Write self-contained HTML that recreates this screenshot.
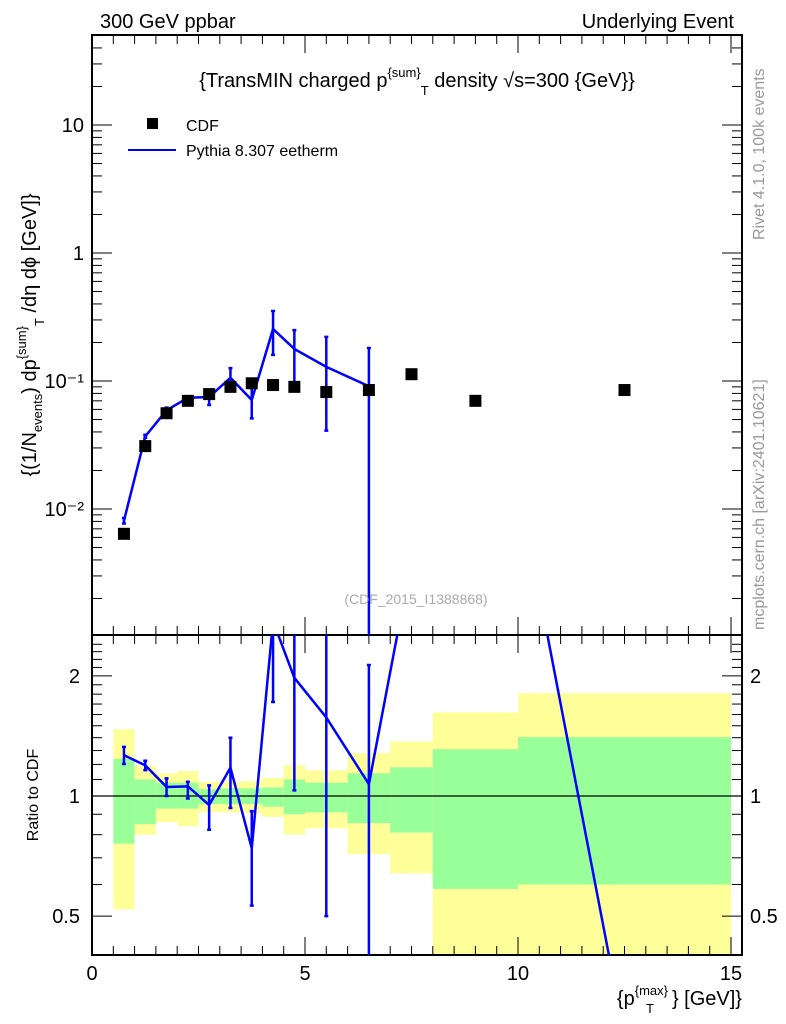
<!DOCTYPE html>
<html><head><meta charset="utf-8"><style>
body{margin:0;background:#fff;}
svg{display:block;font-family:"Liberation Sans",sans-serif;}
</style></head><body>
<svg id="c" width="786" height="1024" viewBox="0 0 786 1024">
<g id="bands"></g><g id="grid"></g><g id="marks"></g>
<text x="100" y="28" font-size="20">300 GeV ppbar</text>
<text x="734" y="28" font-size="20" text-anchor="end">Underlying Event</text>
<text x="417" y="87" font-size="20" text-anchor="middle">{TransMIN charged p<tspan dy="-10" font-size="13">{sum}</tspan><tspan dy="18" font-size="13">T</tspan><tspan dy="-8"> density √s=300 {GeV}}</tspan></text>
<rect x="147" y="118" width="11" height="11" fill="#000"/>
<text x="186" y="131" font-size="16">CDF</text>
<line x1="128" y1="150" x2="176" y2="150" stroke="#0000ff" stroke-width="2"/>
<text x="186" y="156" font-size="16">Pythia 8.307 eetherm</text>
<text x="416" y="604" font-size="14" fill="#aaa" text-anchor="middle">(CDF_2015_I1388868)</text>
<text transform="translate(764,240) rotate(-90)" font-size="16" fill="#999">Rivet 4.1.0,  100k events</text>
<text transform="translate(764,630) rotate(-90)" font-size="16" fill="#999">mcplots.cern.ch [arXiv:2401.10621]</text>
<text transform="translate(36,335) rotate(-90)" font-size="20" text-anchor="middle">{(1/N<tspan dy="6" font-size="13">events</tspan><tspan dy="-6">) dp</tspan><tspan dy="-10" font-size="13">{sum}</tspan><tspan dy="18" font-size="13">T</tspan><tspan dy="-8"> /dη  dϕ [GeV]}</tspan></text>
<text transform="translate(38,795) rotate(-90)" font-size="16" text-anchor="middle">Ratio to CDF</text>
<text x="742" y="1005" font-size="20" text-anchor="end">{p<tspan dy="-10" font-size="13">{max}</tspan><tspan dy="18" font-size="13" dx="-22">T</tspan><tspan dy="-8" dx="18">} [GeV]}</tspan></text>
</svg>
<script>
const xs=[0.75,1.25,1.75,2.25,2.75,3.25,3.75,4.25,4.75,5.5,6.5,7.5,9,12.5];
const cdf=[0.0064,0.031,0.056,0.070,0.079,0.090,0.096,0.093,0.090,0.082,0.085,0.113,0.070,0.085];
const pyX=[0.75,1.25,1.75,2.25,2.75,3.25,3.75,4.25,4.75,5.5,6.5];
const py=[0.0081,0.037,0.059,0.074,0.075,0.106,0.071,0.255,0.178,0.129,0.091];
const pyHi=[0.0085,0.038,0.062,0.076,0.084,0.126,0.088,0.352,0.250,0.221,0.181];
const pyLo=[0.0077,0.036,0.056,0.069,0.065,0.084,0.051,0.160,0.093,0.041,0.00001];
const tailX=[7.5,9,12.5];
const tailRatio=[3.9,22,0.25];
const binEdges=[0.5,1,1.5,2,2.5,3,3.5,4,4.5,5,6,7,8,10,15];
const yelHi=[1.47,1.19,1.14,1.155,1.085,1.085,1.09,1.11,1.195,1.16,1.28,1.37,1.62,1.81];
const yelLo=[0.52,0.80,0.86,0.84,0.91,0.91,0.905,0.886,0.80,0.83,0.715,0.64,0.3,0.3];
const grnHi=[1.24,1.10,1.08,1.08,1.04,1.045,1.045,1.05,1.10,1.08,1.14,1.18,1.31,1.405];
const grnLo=[0.76,0.85,0.93,0.93,0.955,0.955,0.955,0.94,0.90,0.91,0.855,0.81,0.585,0.60];
const xTicks=[0,5,10,15];
const mainTicks=[0.01,0.1,1,10];
const mainLabels=["10⁻²","10⁻¹","1","10"];
const ratioTicks=[0.5,1,2];

const NS="http://www.w3.org/2000/svg";
const L=92,R=742,T=35,MB=635,RB=955;
const X=v=>L+(v)*42.6;
const Y=v=>381-128*(Math.log10(v)+1);
const YR=v=>796-399*Math.log10(v);
function el(tag,at,parent){const e=document.createElementNS(NS,tag);for(const k in at)e.setAttribute(k,at[k]);document.getElementById(parent).appendChild(e);return e;}
// clip paths
const defs=el('defs',{},'marks');
defs.innerHTML='<clipPath id="cm"><rect x="92" y="35" width="650" height="600"/></clipPath><clipPath id="cr"><rect x="92" y="635" width="650" height="320"/></clipPath>';
// bands
for(let i=0;i<binEdges.length-1;i++){
 const x1=X(binEdges[i]),x2=X(binEdges[i+1]);
 const yh=Math.max(YR(yelHi[i]),635),yl=Math.min(YR(yelLo[i]),955);
 let r=el('rect',{x:x1,y:yh,width:x2-x1,height:yl-yh,fill:'#ffff99'},'bands');
 
 
 const gh=YR(grnHi[i]),gl=Math.min(YR(grnLo[i]),955);
 r=el('rect',{x:x1,y:gh,width:x2-x1,height:gl-gh,fill:'#99ff99'},'bands');
 
 
}
// frames
let f=el('rect',{x:L,y:T,width:R-L,height:MB-T,fill:'none',stroke:'#000','stroke-width':2},'grid');

f=el('rect',{x:L,y:MB,width:R-L,height:RB-MB,fill:'none',stroke:'#000','stroke-width':2},'grid');

let ln=el('line',{x1:L,x2:R,y1:YR(1),y2:YR(1),stroke:'#000','stroke-width':1.2},'grid');

// x ticks
for(let v=0;v<=15.2;v+=0.5){
 const major=Math.abs(v%5)<1e-6, len=major?18:9;
 [[T,1],[MB,-1],[MB,1],[RB,-1]].forEach(([y0,d])=>el('line',{x1:X(v),x2:X(v),y1:y0,y2:y0+d*len,stroke:'#000','stroke-width':1},'grid'));
}
xTicks.forEach(v=>{const t=el('text',{x:X(v),y:980,'font-size':20,'text-anchor':'middle'},'grid');t.textContent=v;
 });
// main y ticks
for(let d=-3;d<=1;d++)for(let m=1;m<=9;m++){const v=m*Math.pow(10,d);const y=Y(v);if(y<T||y>MB)continue;
 const len=m===1?20:10;el('line',{x1:L,x2:L+len,y1:y,y2:y,stroke:'#000'},'grid');el('line',{x1:R,x2:R-len,y1:y,y2:y,stroke:'#000'},'grid');}
mainTicks.forEach((v,i)=>{const t=el('text',{x:84,y:Y(v)+7,'font-size':20,'text-anchor':'end'},'grid');t.textContent=mainLabels[i];
 });
// ratio y ticks
for(let v=0.4;v<=2.5;v+=0.1){const y=YR(v);const maj=[0.5,1,2].some(m=>Math.abs(m-v)<1e-6);const len=maj?20:10;
 el('line',{x1:L,x2:L+len,y1:y,y2:y,stroke:'#000'},'grid');el('line',{x1:R,x2:R-len,y1:y,y2:y,stroke:'#000'},'grid');}
ratioTicks.forEach(v=>{let t=el('text',{x:80,y:YR(v)+7,'font-size':20,'text-anchor':'end'},'grid');t.textContent=v;
 
 t=el('text',{x:750,y:YR(v)+7,'font-size':20},'grid');t.textContent=v;
 });
// main marks
const gm=el('g',{'clip-path':'url(#cm)'},'marks');
const gr=el('g',{'clip-path':'url(#cr)'},'marks');
function add(g,tag,at){const e=document.createElementNS(NS,tag);for(const k in at)e.setAttribute(k,at[k]);g.appendChild(e);return e;}
let p=add(gm,'polyline',{points:pyX.map((x,i)=>X(x)+','+Y(py[i])).join(' '),fill:'none',stroke:'#0000ff','stroke-width':2.5});

pyX.forEach((x,i)=>{const e=add(gm,'path',{d:`M${X(x)},${Y(pyHi[i])}V${Math.min(Y(pyLo[i]),700)}M${X(x)-2},${Y(pyHi[i])}h4M${X(x)-2},${Y(pyLo[i])}h4`,stroke:'#0000ff','stroke-width':2.5,fill:'none'});
 });
xs.forEach((x,i)=>{const r=add(gm,'rect',{x:X(x)-6,y:Y(cdf[i])-6,width:12,height:12,fill:'#000'});
 });
// ratio marks
const rx=pyX.concat(tailX), rv=pyX.map((x,i)=>py[i]/cdf[i]).concat(tailRatio);
p=add(gr,'polyline',{points:rx.map((x,i)=>X(x)+','+YR(rv[i])).join(' '),fill:'none',stroke:'#0000ff','stroke-width':2.5});

pyX.forEach((x,i)=>{const hi=YR(pyHi[i]/cdf[i]),lo=Math.min(YR(pyLo[i]/cdf[i]),1000);
 const e=add(gr,'path',{d:`M${X(x)},${hi}V${lo}M${X(x)-2},${hi}h4M${X(x)-2},${lo}h4`,stroke:'#0000ff','stroke-width':2.5,fill:'none'});
 });
</script>
</body></html>
